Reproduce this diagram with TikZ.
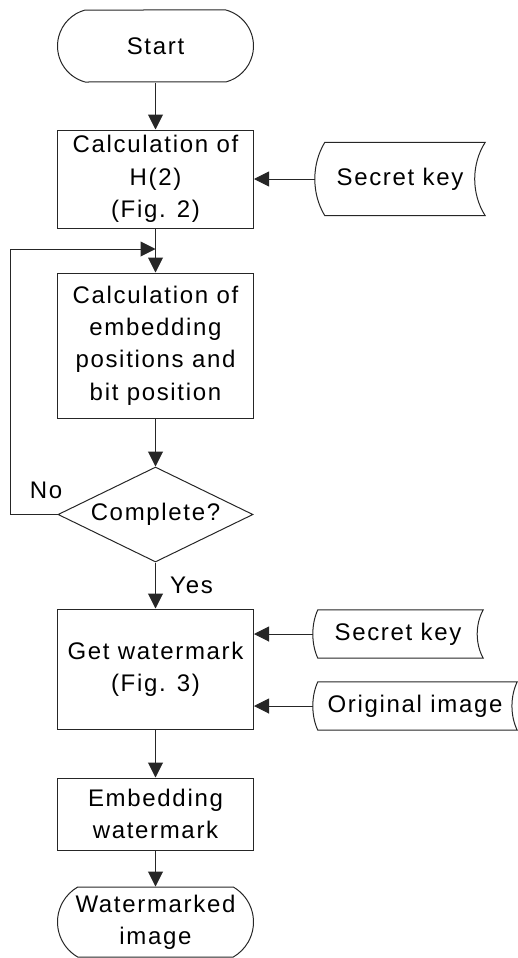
\documentclass[tikz,border=0pt]{standalone}
\usepackage{fontspec}
\setmainfont{Liberation Sans}[LetterSpace=7]
\usetikzlibrary{arrows.meta,shapes.geometric,shapes.misc,calc}
\tikzset{
 lin/.style={draw=black!85, line width=1pt},
 arr/.style={draw=black!85, line width=1pt, -{Triangle[width=15pt,length=15pt]}},
 txt/.style={font=\fontsize{24}{32.3}\selectfont, align=center, inner sep=0pt},
 proc/.style={txt, lin, rectangle},
 term/.style={txt, lin, rounded rectangle},
 datanode/.style={txt, rectangle},
}
\newcommand{\tapeoutline}[3]{%
 \draw[lin] ($(#1.north west)+(#2,0)$) -- (#1.north east)
  .. controls ($(#1.north east)!0.3!(#1.south east)+(-#3,0)$) and ($(#1.north east)!0.7!(#1.south east)+(-#3,0)$) .. (#1.south east)
  -- ($(#1.south west)+(#2,0)$)
  .. controls ($(#1.south west)!0.3!(#1.north west)+(-#2/3,0)$) and ($(#1.south west)!0.7!(#1.north west)+(-#2/3,0)$) .. ($(#1.north west)+(#2,0)$) -- cycle;}
\begin{document}
\begin{tikzpicture}[x=1pt,y=-1pt]
\useasboundingbox (0,0) rectangle (518,958);
\node[term, minimum width=196pt, minimum height=72pt, rounded rectangle arc length=150] (start) at (155.5,46) {Start};
\node[proc, minimum width=196pt, minimum height=98pt] (calc) at (155.5,179) {Calculation of\\H(2)\\(Fig. 2)};
\node[datanode, minimum width=170pt, minimum height=73pt] (key1) at (400,179) {Secret key};
\tapeoutline{key1}{10}{14}
\node[proc, minimum width=196pt, minimum height=145pt] (pos) at (155.5,345.5) {Calculation of\\embedding\\positions and\\bit position};
\node[diamond, lin, minimum width=195pt, minimum height=95pt, inner sep=0pt, aspect=2] (dec) at (155.5,514.5) {};
\node[txt] (dectext) at (dec.center) {Complete?};
\node[proc, minimum width=196pt, minimum height=120pt] (wm) at (155.5,669) {Get watermark\\(Fig. 3)};
\node[datanode, minimum width=170pt, minimum height=48pt] (key2) at (398,634) {Secret key};
\tapeoutline{key2}{5}{8}
\node[datanode, minimum width=204pt, minimum height=48pt] (orig) at (415,706) {Original image};
\tapeoutline{orig}{5}{7}
\node[proc, minimum width=196pt, minimum height=72pt] (emb) at (155.5,814) {Embedding\\watermark};
\node[term, minimum width=196pt, minimum height=70pt, rounded rectangle arc length=120] (endt) at (155.5,922) {Watermarked\\image};
\node[txt] (no) at (46,490) {No};
\node[txt] (yes) at (191.5,585) {Yes};
\coordinate (loopc) at (10,249);
\draw[arr] (start.south) -- (calc.north);
\draw[arr] (key1.west) -- (key1.west -| calc.east);
\draw[arr] (calc.south) -- (pos.north);
\draw[arr] (pos.south) -- (dec.north);
\draw[arr] (dec.west) -- (dec.west -| loopc) -- (loopc) -- (loopc -| pos.north);
\draw[arr] (dec.south) -- (wm.north);
\draw[arr] (key2.west) -- (key2.west -| wm.east);
\draw[arr] (orig.west) -- (orig.west -| wm.east);
\draw[arr] (wm.south) -- (emb.north);
\draw[arr] (emb.south) -- (endt.north);
\end{tikzpicture}
\end{document}
